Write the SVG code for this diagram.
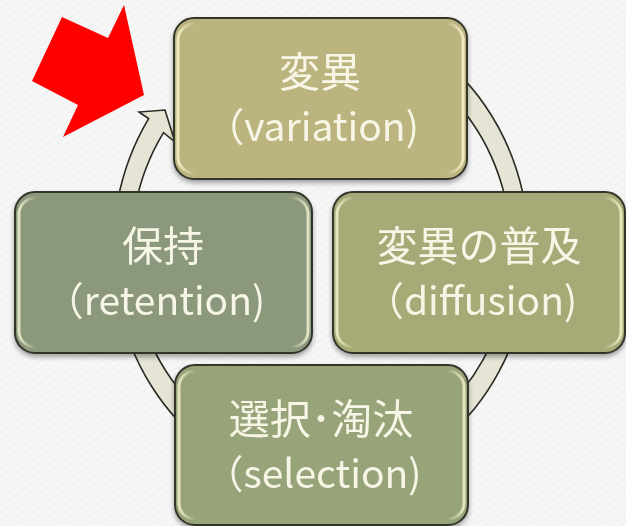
<svg xmlns="http://www.w3.org/2000/svg" width="626" height="526" viewBox="0 0 626 526">
  <defs>
    <pattern id="bgtex" width="6" height="6" patternUnits="userSpaceOnUse" patternTransform="rotate(-35)">
      <rect width="6" height="6" fill="#f6f6f6"/>
      <line x1="0" y1="0" x2="6" y2="0" stroke="#e9e9e9" stroke-width="1"/>
    </pattern>
    <linearGradient id="shine" x1="0" y1="0" x2="1" y2="0">
      <stop offset="0" stop-color="#fffbd8" stop-opacity="0.75"/>
      <stop offset="0.06" stop-color="#fffbd8" stop-opacity="0"/>
      <stop offset="0.94" stop-color="#fffbd8" stop-opacity="0"/>
      <stop offset="1" stop-color="#fffbd8" stop-opacity="0.75"/>
    </linearGradient>
    <filter id="sh" x="-10%" y="-10%" width="120%" height="125%">
      <feGaussianBlur in="SourceAlpha" stdDeviation="2.5"/>
      <feOffset dx="0" dy="3" result="b"/>
      <feComponentTransfer><feFuncA type="linear" slope="0.35"/></feComponentTransfer>
      <feMerge><feMergeNode/><feMergeNode in="SourceGraphic"/></feMerge>
    </filter>
  </defs>
  <style>
    .box { stroke: #33342a; stroke-width: 2; }
    .hl { fill: none; stroke: url(#shine); stroke-width: 3; }
    .t { font-family: "Noto Sans CJK JP", "Noto Sans", sans-serif; fill: #f7f6e6; text-anchor: middle; }
    .t1 { font-size: 41px; }
    .t2 { font-size: 39px; }
    .ring { fill: #e6e4d4; stroke: #2a2a24; stroke-width: 1.6; stroke-linejoin: miter; }
  </style>
  <rect width="626" height="526" fill="url(#bgtex)"/>

  <!-- red pointer arrow -->
  <polygon points="32,81 62,17 108,38 124,5 144,95 63,137 78,105" fill="#ff0000"/>

  <g id="connectors">
    <path class="ring" d="M 425,46.5 A 208 235 0 1 1 148.6,118.6 L 139,112 L 165,110 L 175,142 L 163.5,132.6 A 190 210 0 1 0 416,68 Z"/>
  </g>

  <g id="node-variation" filter="url(#sh)">
    <rect class="box" x="174" y="18" width="293" height="161" rx="20" fill="#bcb47f"/>
    <rect class="hl" x="178" y="24" width="285" height="149" rx="16"/>
    <text class="t t1" x="320" y="87">変異</text>
    <text class="t t2" x="312" y="141">（variation)</text>
  </g>

  <g id="node-retention" filter="url(#sh)">
    <rect class="box" x="15" y="192" width="297" height="161" rx="20" fill="#8b987c"/>
    <rect class="hl" x="19" y="198" width="289" height="149" rx="16"/>
    <text class="t t1" x="163" y="261">保持</text>
    <text class="t t2" x="155" y="315">（retention)</text>
  </g>

  <g id="node-diffusion" filter="url(#sh)">
    <rect class="box" x="333" y="192" width="292" height="161" rx="20" fill="#a6aa76"/>
    <rect class="hl" x="337" y="198" width="284" height="149" rx="16"/>
    <text class="t t1" x="479" y="261">変異の普及</text>
    <text class="t t2" x="471" y="315">（diffusion)</text>
  </g>

  <g id="node-selection" filter="url(#sh)">
    <rect class="box" x="175" y="365" width="293" height="160" rx="20" fill="#97a378"/>
    <rect class="hl" x="179" y="371" width="285" height="148" rx="16"/>
    <text class="t t1" x="321" y="434">選択･淘汰</text>
    <text class="t t2" x="313" y="488">（selection)</text>
  </g>
</svg>
